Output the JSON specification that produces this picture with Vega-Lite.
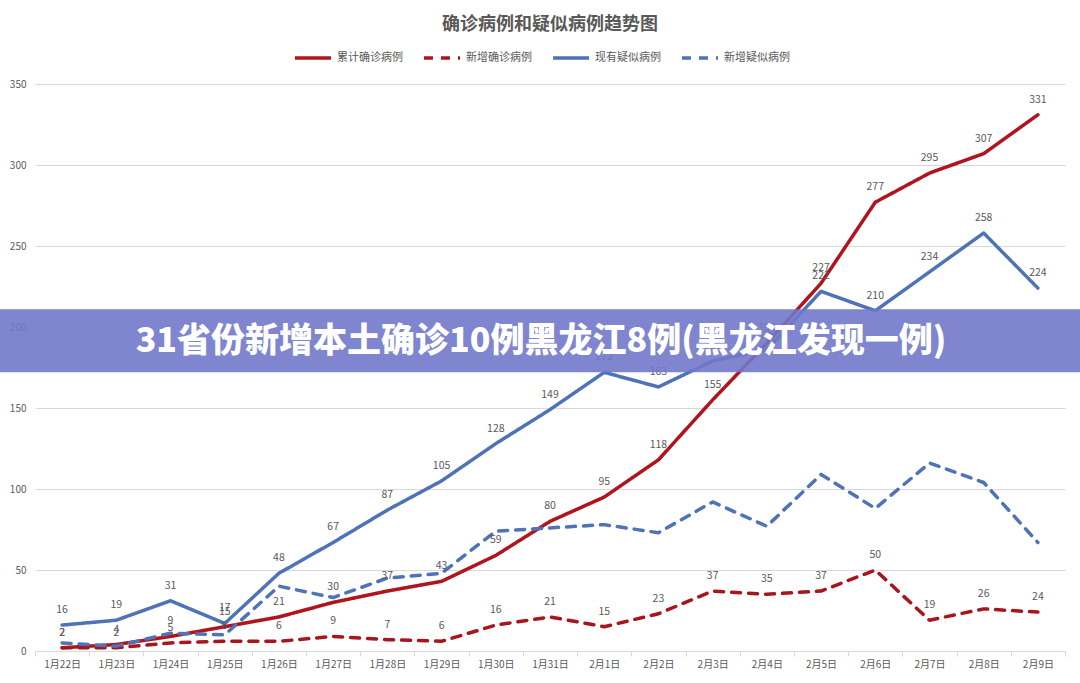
{
  "$schema": "https://vega.github.io/schema/vega-lite/v6.json",
  "width": 1030,
  "height": 567,
  "autosize": {"type": "none"},
  "padding": {"left": 35, "top": 84, "right": 15, "bottom": 32},
  "background": "white",
  "title": {
    "text": "确诊病例和疑似病例趋势图",
    "fontSize": 18,
    "fontWeight": "bold",
    "color": "#595959",
    "font": "Noto Sans CJK SC",
    "anchor": "middle",
    "offset": 4
  },
  "config": {
    "view": {"stroke": null},
    "legend": {
      "orient": "none",
      "legendX": 258,
      "legendY": -46,
      "direction": "horizontal",
      "title": null,
      "symbolType": "stroke",
      "symbolSize": 1300,
      "symbolStrokeWidth": 3.5,
      "labelFont": "Noto Sans CJK SC",
      "labelFontSize": 11,
      "labelColor": "#595959",
      "columnPadding": 13,
      "labelOffset": 4
    }
  },
  "data": {
    "values": [
      {"date": "1月22日", "累计确诊病例": 2, "新增确诊病例": 2, "现有疑似病例": 16, "新增疑似病例": 5},
      {"date": "1月23日", "累计确诊病例": 4, "新增确诊病例": 2, "现有疑似病例": 19, "新增疑似病例": 3},
      {"date": "1月24日", "累计确诊病例": 9, "新增确诊病例": 5, "现有疑似病例": 31, "新增疑似病例": 11},
      {"date": "1月25日", "累计确诊病例": 15, "新增确诊病例": 6, "现有疑似病例": 17, "新增疑似病例": 10},
      {"date": "1月26日", "累计确诊病例": 21, "新增确诊病例": 6, "现有疑似病例": 48, "新增疑似病例": 40},
      {"date": "1月27日", "累计确诊病例": 30, "新增确诊病例": 9, "现有疑似病例": 67, "新增疑似病例": 33},
      {"date": "1月28日", "累计确诊病例": 37, "新增确诊病例": 7, "现有疑似病例": 87, "新增疑似病例": 45},
      {"date": "1月29日", "累计确诊病例": 43, "新增确诊病例": 6, "现有疑似病例": 105, "新增疑似病例": 48},
      {"date": "1月30日", "累计确诊病例": 59, "新增确诊病例": 16, "现有疑似病例": 128, "新增疑似病例": 74},
      {"date": "1月31日", "累计确诊病例": 80, "新增确诊病例": 21, "现有疑似病例": 149, "新增疑似病例": 76},
      {"date": "2月1日", "累计确诊病例": 95, "新增确诊病例": 15, "现有疑似病例": 172, "新增疑似病例": 78},
      {"date": "2月2日", "累计确诊病例": 118, "新增确诊病例": 23, "现有疑似病例": 163, "新增疑似病例": 73},
      {"date": "2月3日", "累计确诊病例": 155, "新增确诊病例": 37, "现有疑似病例": 179, "新增疑似病例": 92},
      {"date": "2月4日", "累计确诊病例": 190, "新增确诊病例": 35, "现有疑似病例": 186, "新增疑似病例": 77},
      {"date": "2月5日", "累计确诊病例": 227, "新增确诊病例": 37, "现有疑似病例": 222, "新增疑似病例": 109},
      {"date": "2月6日", "累计确诊病例": 277, "新增确诊病例": 50, "现有疑似病例": 210, "新增疑似病例": 88},
      {"date": "2月7日", "累计确诊病例": 295, "新增确诊病例": 19, "现有疑似病例": 234, "新增疑似病例": 116},
      {"date": "2月8日", "累计确诊病例": 307, "新增确诊病例": 26, "现有疑似病例": 258, "新增疑似病例": 104},
      {"date": "2月9日", "累计确诊病例": 331, "新增确诊病例": 24, "现有疑似病例": 224, "新增疑似病例": 67}
    ]
  },
  "transform": [
    {"fold": ["累计确诊病例", "新增确诊病例", "现有疑似病例", "新增疑似病例"], "as": ["series", "value"]}
  ],
  "encoding": {
    "x": {
      "field": "date",
      "type": "ordinal",
      "sort": null,
      "bandPosition": 0.5,
      "scale": {"type": "band", "paddingInner": 0, "paddingOuter": 0},
      "axis": {
        "title": null,
        "labelAngle": 0,
        "labelFont": "Noto Sans CJK SC",
        "labelFontSize": 10,
        "labelColor": "#595959",
        "tickBand": "extent",
        "tickColor": "#d9d9d9",
        "tickSize": 5,
        "domainColor": "#d9d9d9",
        "labelPadding": 3,
        "grid": false
      }
    },
    "y": {
      "field": "value",
      "type": "quantitative",
      "scale": {"domain": [0, 350], "nice": false},
      "axis": {
        "title": null,
        "values": [0, 50, 100, 150, 200, 250, 300, 350],
        "domain": false,
        "ticks": false,
        "grid": true,
        "gridColor": "#d9d9d9",
        "labelFont": "Noto Sans CJK SC",
        "labelFontSize": 10,
        "labelColor": "#595959",
        "labelPadding": 9
      }
    }
  },
  "layer": [
    {
      "mark": {"type": "line", "strokeWidth": 3.5, "strokeCap": "round", "strokeJoin": "round"},
      "encoding": {
        "color": {
          "field": "series",
          "type": "nominal",
          "scale": {
            "domain": ["累计确诊病例", "新增确诊病例", "现有疑似病例", "新增疑似病例"],
            "range": ["#b0141c", "#a8151d", "#4e73b6", "#4e73b6"]
          }
        },
        "strokeDash": {
          "field": "series",
          "type": "nominal",
          "scale": {
            "domain": ["累计确诊病例", "新增确诊病例", "现有疑似病例", "新增疑似病例"],
            "range": [[1, 0], [9, 8], [1, 0], [9, 8]]
          }
        }
      }
    },
    {
      "transform": [{"filter": "datum.series !== '新增疑似病例'"}],
      "mark": {"type": "text", "dy": -15, "fontSize": 10.5, "color": "#595959", "font": "Noto Sans CJK SC"},
      "encoding": {
        "text": {"field": "value", "type": "quantitative"}
      }
    },
    {
      "data": {"values": [{"top": 211, "bottom": 172, "mid": 191, "banner": "31省份新增本土确诊10例黑龙江8例(黑龙江发现一例)"}]},
      "transform": [],
      "layer": [
        {
          "mark": {"type": "rect", "color": "#7278ca", "opacity": 0.9},
          "encoding": {
            "x": {"value": -35},
            "x2": {"value": 1045},
            "y": {"field": "top", "type": "quantitative"},
            "y2": {"field": "bottom"}
          }
        },
        {
          "mark": {"type": "text", "color": "white", "fontSize": 34, "fontWeight": 900, "font": "Noto Sans CJK SC", "align": "center", "baseline": "middle"},
          "encoding": {
            "x": {"value": 506},
            "y": {"field": "mid", "type": "quantitative"},
            "text": {"field": "banner"}
          }
        }
      ]
    }
  ]
}
